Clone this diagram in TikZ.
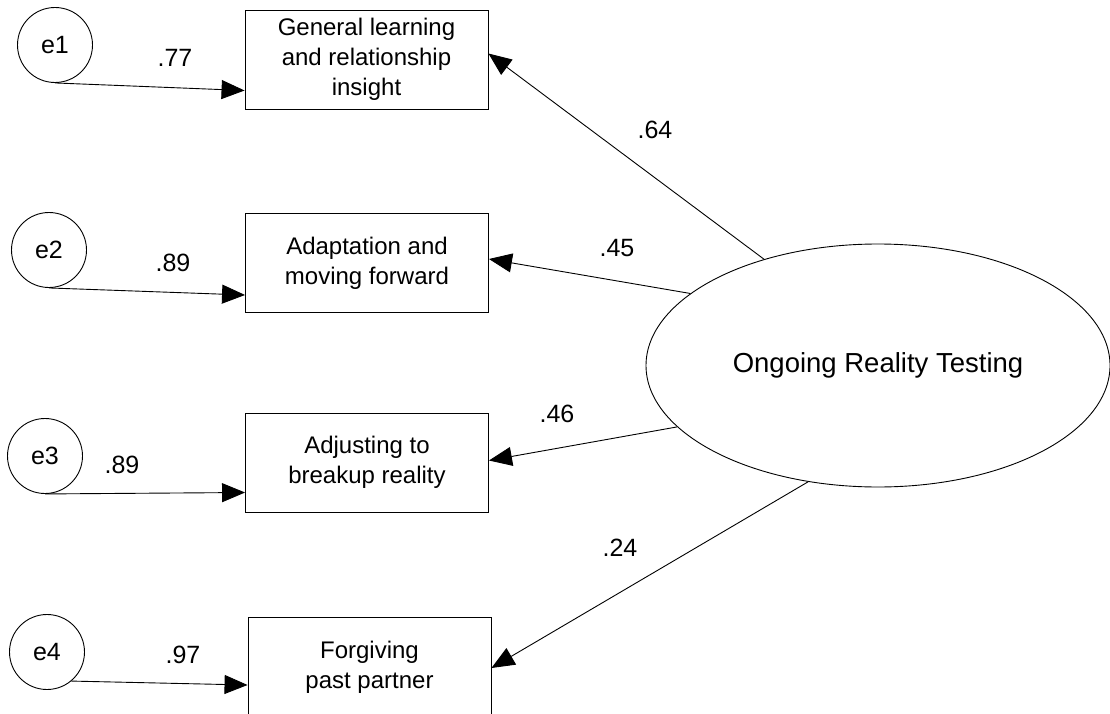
\documentclass[tikz,border=0pt]{standalone}
\usepackage{fontspec}
\setmainfont{Liberation Sans}
\usetikzlibrary{arrows.meta,shapes.geometric}
\begin{document}
\begin{tikzpicture}[x=1pt,y=-1pt,
  every node/.style={inner sep=0pt},
  obs/.style={draw,line width=0.9pt,rectangle,minimum width=243pt,minimum height=99pt,align=center,font=\fontsize{24}{30}\selectfont},
  err/.style={draw,line width=0.9pt,circle,minimum size=75pt,font=\fontsize{25}{30}\selectfont},
  lat/.style={draw,line width=0.9pt,ellipse,minimum width=464pt,minimum height=243pt,font=\fontsize{27.5}{32}\selectfont},
  coef/.style={font=\fontsize{25}{30}\selectfont},
  arr/.style={line width=0.9pt,-{Triangle[length=23pt,width=19pt]}}]
\useasboundingbox (0,0) rectangle (1110,714);
\fill[white] (0,0) rectangle (1110,714);
% observed variables
\node[obs] (b1) at (366.5,59.5) {General learning\\and relationship\\insight};
\node[obs] (b2) at (367,263) {Adaptation and\\moving forward};
\node[obs] (b3) at (367,462.5) {Adjusting to\\breakup reality};
\node[obs,minimum height=100pt] (b4) at (369.5,667) {Forgiving\\past partner};
% errors
\node[err] (e1) at (55,45) {e1};
\node[err] (e2) at (49,250) {e2};
\node[err] (e3) at (45,456) {e3};
\node[err] (e4) at (47,652) {e4};
% latent
\node[lat] (ort) at (878,365.5) {Ongoing Reality Testing};
% error paths
\draw[arr] (e1.south) -- ([yshift=-31pt]b1.west);
\draw[arr] (e2.south) -- ([yshift=-32pt]b2.west);
\draw[arr] (e3.south) -- ([yshift=-30pt]b3.west);
\draw[arr] (e4.-50) -- ([yshift=-18pt]b4.west);
% loadings
\draw[arr] (ort.137.9) -- ([yshift=6pt]b1.east);
\draw[arr] (ort.159.6) -- ([yshift=4pt]b2.east);
\draw[arr] (ort.197.2) -- ([yshift=2pt]b3.east);
\draw[arr] (ort.239.8) -- ([yshift=-1pt]b4.east);
% coefficients
\node[coef] (c1) at (175,58) {.77};
\node[coef] (c2) at (173,263) {.89};
\node[coef] (c3) at (122,465) {.89};
\node[coef] (c4) at (183,655) {.97};
\node[coef] (l1) at (655,130) {.64};
\node[coef] (l2) at (617,248) {.45};
\node[coef] (l3) at (557,414) {.46};
\node[coef] (l4) at (620,548) {.24};
\end{tikzpicture}
\end{document}
